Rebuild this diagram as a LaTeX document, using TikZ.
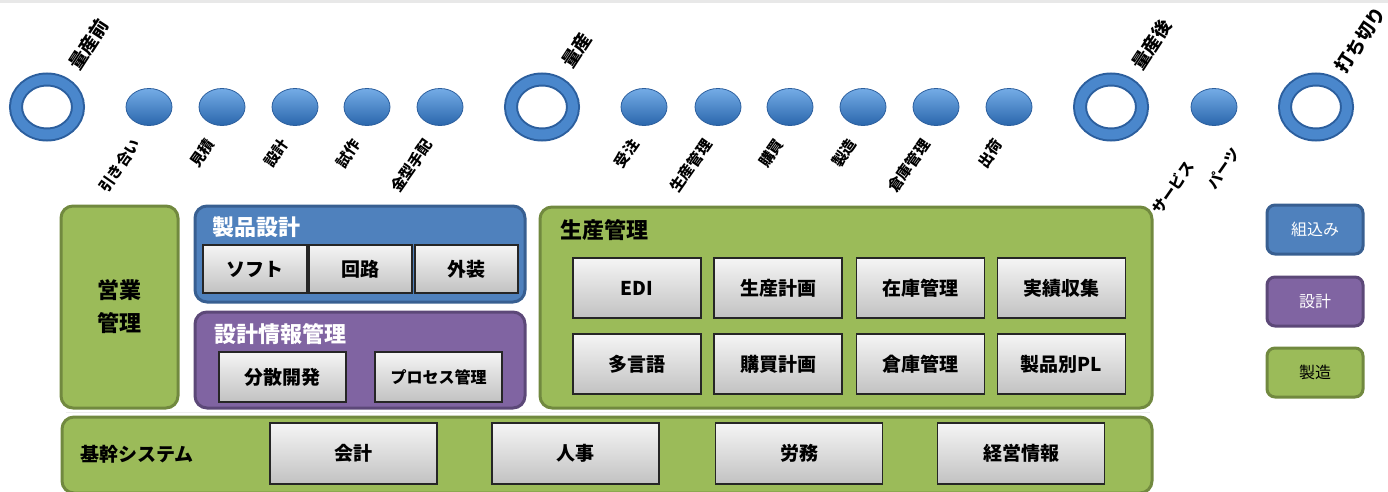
\documentclass[tikz,border=0pt]{standalone}
\usepackage{fontspec}
\setmainfont{Noto Sans CJK JP}
\usetikzlibrary{shapes.geometric}
\definecolor{ringdark}{HTML}{2C5F9E}
\definecolor{ringmid}{HTML}{4A87CC}
\definecolor{dottop}{HTML}{74ACE6}
\definecolor{dotbot}{HTML}{2A66AC}
\definecolor{grnfill}{HTML}{9BBB59}
\definecolor{grnline}{HTML}{71893F}
\definecolor{blufill}{HTML}{4F81BD}
\definecolor{bluline}{HTML}{385F91}
\definecolor{purfill}{HTML}{8064A2}
\definecolor{purline}{HTML}{5C4878}
\newcommand\myfs[1]{\fontsize{#1}{#1}\selectfont}
\tikzset{
  ringnode/.style={ellipse, inner sep=0, minimum width=62, minimum height=55,
    draw=ringdark, line width=2, double=ringmid, double distance=10},
  dotnode/.style={ellipse, inner sep=0, minimum width=46, minimum height=37,
    top color=dottop, bottom color=dotbot, draw=ringdark, line width=0.8},
  uplabel/.style={rotate=57, anchor=west, inner sep=0, font=\bfseries\myfs{18.5}},
  lowlabel/.style={rotate=55, anchor=east, inner sep=0, font=\bfseries\myfs{15}},
  bigbox/.style={rectangle, rounded corners=12, line width=3, inner sep=0},
  grnbox/.style={bigbox, fill=grnfill, draw=grnline},
  blubox/.style={bigbox, fill=blufill, draw=bluline},
  purbox/.style={bigbox, fill=purfill, draw=purline},
  subbox/.style={rectangle, draw=black!85, line width=1.2, inner sep=0,
    top color=black!4, bottom color=black!24, font=\bfseries\myfs{19}},
  boxtitle/.style={anchor=west, inner sep=0, font=\bfseries\myfs{22}},
  legbox/.style={rectangle, rounded corners=8, line width=3, inner sep=0,
    minimum width=96, minimum height=49, font=\myfs{16}}
}
\begin{document}
\begin{tikzpicture}[x=1pt,y=-1pt]
\useasboundingbox (0,0) rectangle (1388,492);
\fill[black!9] (0,0) rectangle (1388,3);

% timeline
\node[ringnode] (r1) at (47,107) {};
\node[ringnode] (r2) at (542,107) {};
\node[ringnode] (r3) at (1111,107) {};
\node[ringnode] (r4) at (1316,107) {};
\node[uplabel] (lr1) at (73,68) {量産前};
\node[uplabel] (lr2) at (566,66) {量産};
\node[uplabel] (lr3) at (1136,68) {量産後};
\node[uplabel] (lr4) at (1340,71) {打ち切り};

\node[dotnode] (d1) at (149,107) {};
\node[dotnode] (d2) at (222,107) {};
\node[dotnode] (d3) at (295,107) {};
\node[dotnode] (d4) at (367,107) {};
\node[dotnode] (d5) at (440,107) {};
\node[dotnode] (d6) at (644,107) {};
\node[dotnode] (d7) at (718,107) {};
\node[dotnode] (d8) at (790,107) {};
\node[dotnode] (d9) at (863,107) {};
\node[dotnode] (d10) at (936,107) {};
\node[dotnode] (d11) at (1009,107) {};
\node[dotnode] (d12) at (1214,107) {};

\node[lowlabel] (l1) at (137,141) {引き合い};
\node[lowlabel] (l2) at (211,141) {見積};
\node[lowlabel] (l3) at (285,141) {設計};
\node[lowlabel] (l4) at (357,141) {試作};
\node[lowlabel] (l5) at (429,141) {金型手配};
\node[lowlabel] (l6) at (635,141) {受注};
\node[lowlabel] (l7) at (708,141) {生産管理};
\node[lowlabel] (l8) at (780,141) {購買};
\node[lowlabel] (l9) at (853,141) {製造};
\node[lowlabel] (l10) at (926,141) {倉庫管理};
\node[lowlabel] (l11) at (999,141) {出荷};
\node[lowlabel] (l12) at (1190,163) {サービス};
\node[lowlabel] (l13) at (1236,150) {パーツ};

% faint line
\draw[black!7, line width=1] (66,412.5) -- (1150,412.5);

% sales
\node[grnbox, minimum width=117, minimum height=202, align=center,
  font=\bfseries\fontsize{22}{33}\selectfont] (sales) at (119.5,307) {営業\\管理};

% product design
\node[blubox, minimum width=330, minimum height=96] (pd) at (360,254) {};
\node[boxtitle, text=white] (pdt) at (212,227) {製品設計};
\node[subbox, minimum width=104, minimum height=48] (soft) at (255,269) {ソフト};
\node[subbox, minimum width=103, minimum height=48] (circ) at (360.5,269) {回路};
\node[subbox, minimum width=103, minimum height=48] (ext) at (466.5,269) {外装};

% design info
\node[purbox, minimum width=330, minimum height=96] (di) at (360,360) {};
\node[boxtitle, text=white] (dit) at (214,334) {設計情報管理};
\node[subbox, minimum width=127, minimum height=50] (dist) at (282.5,377) {分散開発};
\node[subbox, minimum width=127, minimum height=50, font=\bfseries\myfs{16}] (proc) at (438.5,377) {プロセス管理};

% production
\node[grnbox, minimum width=612, minimum height=201] (pm) at (846,307.5) {};
\node[boxtitle] (pmt) at (560,230) {生産管理};
\node[subbox, minimum width=128, minimum height=60] (edi) at (637,288) {EDI};
\node[subbox, minimum width=128, minimum height=60] (plan) at (778,288) {生産計画};
\node[subbox, minimum width=128, minimum height=60] (stock) at (920.5,288) {在庫管理};
\node[subbox, minimum width=128, minimum height=60] (act) at (1061.5,288) {実績収集};
\node[subbox, minimum width=128, minimum height=60] (lang) at (637,364) {多言語};
\node[subbox, minimum width=128, minimum height=60] (buy) at (778,364) {購買計画};
\node[subbox, minimum width=128, minimum height=60] (wh) at (920.5,364) {倉庫管理};
\node[subbox, minimum width=128, minimum height=60] (ppl) at (1061.5,364) {製品別PL};

% core
\node[grnbox, minimum width=1090, minimum height=76] (core) at (607,455) {};
\node[boxtitle, font=\bfseries\myfs{19}] (coret) at (80,454) {基幹システム};
\node[subbox, minimum width=167, minimum height=61] (acc) at (353.5,453.5) {会計};
\node[subbox, minimum width=167, minimum height=61] (hr) at (575.5,453.5) {人事};
\node[subbox, minimum width=167, minimum height=61] (lab) at (799,453.5) {労務};
\node[subbox, minimum width=167, minimum height=61] (mgmt) at (1021,453.5) {経営情報};

% legend
\node[legbox, fill=blufill, draw=bluline, text=white] (lg1) at (1315,229.5) {組込み};
\node[legbox, fill=purfill, draw=purline, text=white] (lg2) at (1315,301.5) {設計};
\node[legbox, fill=grnfill, draw=grnline] (lg3) at (1315,372.5) {製造};
\end{tikzpicture}
\end{document}
